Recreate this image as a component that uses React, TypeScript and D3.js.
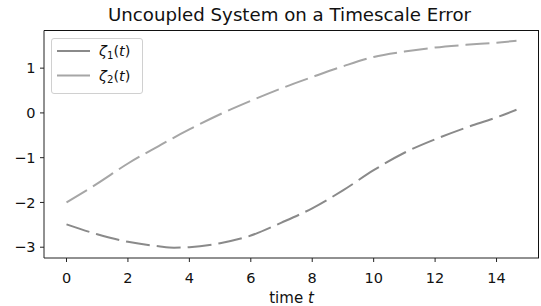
import React from "react";
import * as d3 from "d3";

const tValues = [0, 1, 2, 3, 3.5, 4, 5, 6, 7, 8, 9, 10, 11, 12, 13, 14, 14.65];
const zeta1 = [-2.49, -2.71, -2.88, -2.98, -3.01, -3.0, -2.91, -2.74, -2.45, -2.13, -1.73, -1.28, -0.89, -0.59, -0.33, -0.1, 0.07];
const zeta2 = [-2.0, -1.58, -1.13, -0.74, -0.55, -0.37, -0.03, 0.27, 0.55, 0.8, 1.04, 1.25, 1.37, 1.46, 1.52, 1.57, 1.61];
const xTicks = [0, 2, 4, 6, 8, 10, 12, 14];
const yTicks = [-3, -2, -1, 0, 1];
const seriesNames = ["1", "2"];
const title = "Uncoupled System on a Timescale Error";

const W = 541;
const H = 306;
const left = 44;
const right = 539;
const top = 30.5;
const bottom = 258;
const font = "DejaVu Sans, sans-serif";

export default function App() {
  const tMin = d3.min(tValues)!;
  const tMax = d3.max(tValues)!;
  const tPad = (tMax - tMin) * 0.05;
  const allY = [...zeta1, ...zeta2];
  const yMin = d3.min(allY)!;
  const yMax = d3.max(allY)!;
  const yPad = (yMax - yMin) * 0.05;
  const x = d3.scaleLinear().domain([tMin - tPad, tMax + tPad]).range([left, right]);
  const y = d3.scaleLinear().domain([yMin - yPad, yMax + yPad]).range([bottom, top]);

  const line = d3
    .line<number>()
    .x((_, i) => x(tValues[i]))
    .y((d) => y(d))
    .curve(d3.curveMonotoneX);

  const series = [
    { data: zeta1, color: "#8a8a8a" },
    { data: zeta2, color: "#a6a6a6" },
  ];

  const fs = 14.5;
  return (
    <svg width={W} height={H} style={{ position: "absolute", left: 0, top: 0 }} fontFamily={font}>
      <rect x={0} y={0} width={W} height={H} fill="#fff" />
      <text x={(left + right) / 2 - 2} y={20.5} textAnchor="middle" fontSize={18.2} fill="#111">
        {title}
      </text>
      {series.map((s, i) => (
        <path
          key={i}
          d={line(s.data) || ""}
          fill="none"
          stroke={s.color}
          strokeWidth={2}
          strokeDasharray="24 7"
        />
      ))}
      {/* spines */}
      <line x1={left} x2={left} y1={top} y2={bottom} stroke="#222" strokeWidth={1} />
      <line x1={left} x2={right} y1={bottom} y2={bottom} stroke="#222" strokeWidth={1} />
      <line x1={left} x2={right} y1={top} y2={top} stroke="#111" strokeWidth={1} />
      <line x1={right - 0.5} x2={right - 0.5} y1={top} y2={bottom} stroke="#111" strokeWidth={1} />
      {xTicks.map((t) => (
        <g key={t}>
          <line x1={x(t)} x2={x(t)} y1={bottom} y2={bottom + 4} stroke="#222" strokeWidth={1} />
          <text x={x(t)} y={bottom + 24.5} textAnchor="middle" fontSize={fs} fill="#111">
            {t}
          </text>
        </g>
      ))}
      {yTicks.map((v) => (
        <g key={v}>
          <line x1={left - 4} x2={left} y1={y(v)} y2={y(v)} stroke="#222" strokeWidth={1} />
          <text x={left - 8.5} y={y(v) + 5.2} textAnchor="end" fontSize={fs} fill="#111">
            {v < 0 ? "\u2212" + Math.abs(v) : String(v)}
          </text>
        </g>
      ))}
      <text x={(left + right) / 2} y={303} textAnchor="middle" fontSize={15} fill="#111">
        time <tspan fontStyle="italic">t</tspan>
      </text>
      {/* legend */}
      <rect x={51.5} y={38.5} width={91} height={55} rx={2.5} fill="#fff" fillOpacity={0.8} stroke="#d0d0d0" strokeWidth={1} />
      {series.map((s, i) => (
        <g key={i}>
          <line x1={57} x2={90} y1={51 + i * 24.5} y2={51 + i * 24.5} stroke={s.color} strokeWidth={2} />
          <text x={99} y={51 + i * 24.5 + 5} fontSize={fs} fill="#111">
            <tspan fontStyle="italic">ζ</tspan>
            <tspan fontSize={10.2} dy={2.5}>{seriesNames[i]}</tspan>
            <tspan dy={-2.5}>(</tspan>
            <tspan fontStyle="italic">t</tspan>
            <tspan>)</tspan>
          </text>
        </g>
      ))}
    </svg>
  );
}
